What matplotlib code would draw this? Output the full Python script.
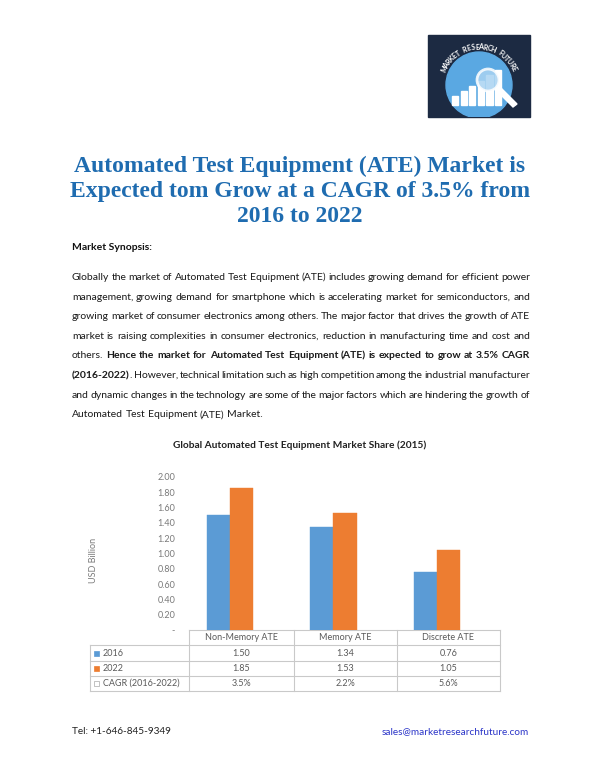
import numpy as np
import matplotlib
matplotlib.use("Agg")
import matplotlib.pyplot as plt
from matplotlib.patches import Rectangle, Circle, Polygon

# ---- chart data ----
categories = ["Non-Memory ATE", "Memory ATE", "Discrete ATE"]
values_2016 = [1.50, 1.34, 0.76]
values_2022 = [1.85, 1.53, 1.05]
cagr_pct = [3.5, 2.2, 5.6]
row_labels = ["2016", "2022", "CAGR (2016-2022)"]
y_ticks = [0.0, 0.2, 0.4, 0.6, 0.8, 1.0, 1.2, 1.4, 1.6, 1.8, 2.0]

# ---- page text ----
title_lines = [
    "Automated Test Equipment (ATE) Market is",
    "Expected tom Grow at a CAGR of 3.5% from",
    "2016 to 2022",
]
# '**' toggles bold
body_lines = [
    "Globally the market of Automated Test Equipment (ATE) includes growing demand for efficient power",
    "management, growing demand for smartphone which is accelerating market for semiconductors, and",
    "growing market of consumer electronics among others. The major factor that drives the growth of ATE",
    "market is raising complexities in consumer electronics, reduction in manufacturing time and cost and",
    "others. **Hence the market for Automated Test Equipment (ATE) is expected to grow at 3.5% CAGR**",
    "**(2016-2022)**. However, technical limitation such as high competition among the industrial manufacturer",
    "and dynamic changes in the technology are some of the major factors which are hindering the growth of",
    "Automated Test Equipment (ATE) Market.",
]
chart_title = "Global Automated Test Equipment Market Share (2015)"
phone = "Tel: +1-646-845-9349"
email = "sales@marketresearchfuture.com"
logo_text = "MARKET RESEARCH FUTURE"
logo_bars = [0.25, 0.4, 0.55, 0.7, 0.85, 1.0]

BLUE = "#5B9BD5"
ORANGE = "#ED7D31"
GRID = "#c9c9c9"
GRAY = "#7a7a7a"
BODY = ["Lato", "DejaVu Sans"]
SERIF = ["Liberation Serif", "DejaVu Serif"]

W, H = 600, 776
fig = plt.figure(figsize=(W / 100, H / 100), dpi=100)
page = fig.add_axes([0, 0, 1, 1])
page.set_xlim(0, W)
page.set_ylim(H, 0)
page.axis("off")
renderer = fig.canvas.get_renderer()

# ---- logo ----
page.add_patch(Rectangle((428, 35), 102, 82, color="#1c2a42", zorder=1))
cx, cy = 479, 85
disc = Circle((cx, cy), 33, color="#5aa8e2", zorder=2)
page.add_patch(disc)
disc.set_clip_path(Rectangle((428, 35), 102, 82, transform=page.transData))
for i, h in enumerate(logo_bars):
    page.add_patch(Rectangle((452 + i * 8.6, 105 - 35 * h), 6.2, 35 * h,
                             color="white", zorder=3))
page.add_patch(Circle((488, 80), 11, facecolor="#a9d3f2", edgecolor="white",
                      lw=2, alpha=0.85, zorder=4))
page.add_patch(Polygon([[495, 89], [499, 86], [517, 104], [513, 107]],
                       color="white", zorder=4))
n = len(logo_text)
for i, ch in enumerate(logo_text):
    th = np.radians(155 - i * (130 / (n - 1)))
    page.text(cx + 38 * np.cos(th), cy - 38 * np.sin(th), ch,
              rotation=np.degrees(th) - 90, ha="center", va="center",
              fontsize=5.0, color="white", fontweight="bold", family=BODY,
              zorder=5)

# ---- title ----
for i, line in enumerate(title_lines):
    page.text(300, 166 + 25 * i, line, ha="center", va="center",
              fontsize=17.0, fontweight="bold", family=SERIF, color="#1f6cb0")

# ---- body ----
page.text(72, 250, "Market Synopsis:", ha="left", va="baseline", fontsize=7.5,
          fontweight="bold", family=BODY, color="#111111")


def parse(line):
    words, bold = [], False
    for raw in line.split(" "):
        pieces = []
        for k, part in enumerate(raw.split("**")):
            if k > 0:
                bold = not bold
            if part:
                pieces.append((part, bold))
        words.append(pieces)
    return words


def draw_line(y, line, x0, x1, justify, size, plain_gap=2.6):
    words = parse(line)
    placed, total = [], 0.0
    for pieces in words:
        arts = []
        for txt, b in pieces:
            t = page.text(0, y, txt, ha="left", va="baseline", fontsize=size,
                          fontweight="bold" if b else "normal", family=BODY,
                          color="#1a1a1a")
            w = t.get_window_extent(renderer).width
            arts.append((t, w))
            total += w
        placed.append(arts)
    if justify and len(placed) > 1:
        gap = (x1 - x0 - total) / (len(placed) - 1)
    else:
        gap = plain_gap
    x = x0
    for arts in placed:
        for t, w in arts:
            t.set_x(x)
            x += w
        x += gap


for i, line in enumerate(body_lines):
    draw_line(280 + 19.6 * i, line, 72, 530, i < len(body_lines) - 1, 7.5)

# ---- chart ----
page.text(300, 445, chart_title, ha="center", va="center", fontsize=7.3,
          fontweight="bold", family=BODY, color="#222222")

ax = fig.add_axes([178 / W, 1 - 630 / H, 311 / W, (630 - 477) / H])
ax.patch.set_alpha(0)
x = np.arange(len(categories))
bw = 0.222
ax.bar(x - bw / 2, values_2016, bw, color=BLUE, edgecolor=BLUE, lw=0.3)
ax.bar(x + bw / 2, values_2022, bw, color=ORANGE, edgecolor=ORANGE, lw=0.3)
ax.set_xlim(-0.5, len(categories) - 0.5)
ax.set_ylim(0, 2.0)
ax.set_yticks(y_ticks)
ax.set_yticklabels(["-" if v == 0 else f"{v:.2f}" for v in y_ticks])
ax.set_xticks([])
ax.tick_params(axis="y", length=0, pad=2, labelsize=6.5, labelcolor=GRAY)
for lab in ax.get_yticklabels():
    lab.set_family(BODY)
for s in ax.spines.values():
    s.set_visible(False)
page.text(93, 560, "USD Billion", rotation=90, ha="center", va="center",
          fontsize=6.5, color=GRAY, family=BODY)

# ---- data table ----
col_x = [189, 294, 397, 500]
row_y = [630, 645, 661, 676, 691]
kw = dict(color=GRID, lw=0.8)
page.plot([col_x[0], col_x[-1]], [row_y[0]] * 2, **kw)
for yy in row_y[1:]:
    page.plot([90, col_x[-1]], [yy, yy], **kw)
page.plot([90, 90], [row_y[1], row_y[-1]], **kw)
for xx in col_x:
    page.plot([xx, xx], [row_y[0], row_y[-1]], **kw)

rows = [[f"{v:.2f}" for v in values_2016],
        [f"{v:.2f}" for v in values_2022],
        [f"{v:.1f}%" for v in cagr_pct]]
tkw = dict(ha="center", va="center", fontsize=6.5, color="#5a5a5a", family=BODY)
for j, cat in enumerate(categories):
    xc = (col_x[j] + col_x[j + 1]) / 2
    page.text(xc, (row_y[0] + row_y[1]) / 2, cat, **tkw)
    for i in range(3):
        page.text(xc, (row_y[i + 1] + row_y[i + 2]) / 2, rows[i][j], **tkw)

marks = [(BLUE, BLUE), (ORANGE, ORANGE), ("white", "#aaaaaa")]
for i, lab in enumerate(row_labels):
    yc = (row_y[i + 1] + row_y[i + 2]) / 2
    fc, ec = marks[i]
    page.add_patch(Rectangle((94, yc - 2.5), 5, 5, facecolor=fc, edgecolor=ec, lw=0.5))
    page.text(103, yc, lab, ha="left", va="center", fontsize=6.5,
              color="#5a5a5a", family=BODY)

# ---- footer ----
page.text(72, 732, phone, ha="left", va="center", fontsize=7.2,
          color="#222222", family=BODY)
page.text(529, 732, email, ha="right", va="center", fontsize=7.2,
          color="#2b35c8", family=BODY)

fig.savefig("out.png", dpi=100)
